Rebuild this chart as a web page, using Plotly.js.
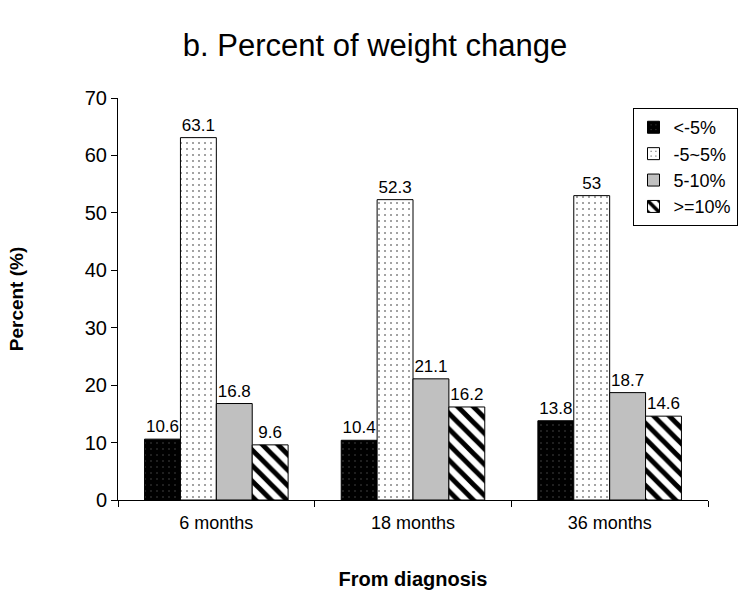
<!DOCTYPE html>
<html>
<head>
<meta charset="utf-8">
<script src="https://cdn.plot.ly/plotly-3.0.1.min.js"></script>
<style>html,body{margin:0;padding:0;background:#fff;}</style>
</head>
<body>
<div id="chart" style="width:750px;height:596px;"></div>
<script>
var categories = ["6 months", "18 months", "36 months"];
var seriesNames = ["<-5%", "-5~5%", "5-10%", ">=10%"];
var lessThanMinus5 = [10.6, 10.4, 13.8];
var minus5To5 = [63.1, 52.3, 53];
var from5To10 = [16.8, 21.1, 18.7];
var atLeast10 = [9.6, 16.2, 14.6];

var seriesValues = [lessThanMinus5, minus5To5, from5To10, atLeast10];
var markers = [
  {color: "#000000", line: {color: "#000", width: 1}, pattern: {shape: ".", fgcolor: "#555555", bgcolor: "#000000", size: 6, solidity: 0.04}},
  {color: "#ffffff", line: {color: "#000", width: 1}, pattern: {shape: ".", fgcolor: "#000000", bgcolor: "#ffffff", size: 6, solidity: 0.04}},
  {color: "#c0c0c0", line: {color: "#000", width: 1}},
  {color: "#ffffff", line: {color: "#000", width: 1}, pattern: {shape: "\\", fgcolor: "#000000", bgcolor: "#ffffff", size: 11, solidity: 0.45}}
];

var traces = seriesValues.map(function (vals, i) {
  return {
    type: "bar",
    name: seriesNames[i],
    x: categories,
    y: vals,
    text: vals.map(String),
    textposition: "outside",
    cliponaxis: false,
    textfont: {family: "Liberation Sans, Arial, sans-serif", size: 17, color: "#000"},
    marker: markers[i]
  };
});

var layout = {
  width: 750,
  height: 596,
  margin: {l: 118, r: 40, t: 98, b: 96},
  paper_bgcolor: "#fff",
  plot_bgcolor: "#fff",
  font: {family: "Liberation Sans, Arial, sans-serif", color: "#000"},
  title: {text: "b. Percent of weight change", font: {size: 31, color: "#000"}, x: 0.5, xanchor: "center", y: 0.925, yanchor: "middle"},
  barmode: "group",
  bargap: 0.27,
  bargroupgap: 0,
  xaxis: {
    showline: true, linecolor: "#000", linewidth: 1,
    ticks: "outside", tickson: "boundaries", ticklen: 6, tickcolor: "#000",
    tickfont: {size: 18}, ticklabelstandoff: 6,
    showgrid: false, zeroline: false,
    title: {text: "<b>From diagnosis</b>", font: {size: 20}, standoff: 40}
  },
  yaxis: {
    range: [0, 70], dtick: 10,
    showline: true, linecolor: "#000", linewidth: 1,
    ticks: "outside", ticklen: 6, tickcolor: "#000",
    tickfont: {size: 20},
    showgrid: false, zeroline: false,
    title: {text: "<b>Percent (%)</b>", font: {size: 19}, standoff: 56}
  },
  showlegend: true,
  legend: {
    x: 1.05, y: 0.975, xanchor: "right", yanchor: "top",
    bordercolor: "#000", borderwidth: 1, bgcolor: "#fff",
    font: {size: 18}, tracegroupgap: 0, itemwidth: 30
  }
};

Plotly.newPlot("chart", traces, layout, {displayModeBar: false, staticPlot: true});
</script>
</body>
</html>
